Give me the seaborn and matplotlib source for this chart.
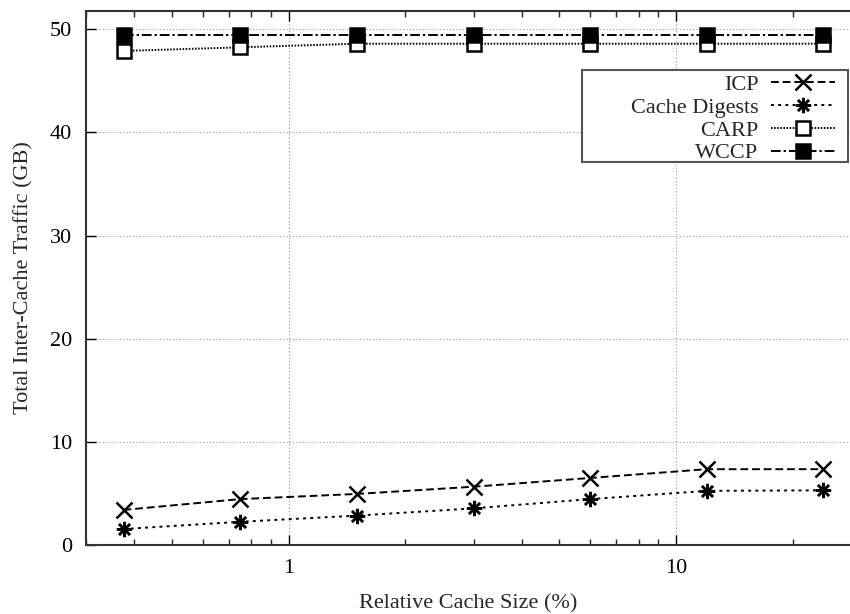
import matplotlib
matplotlib.use("Agg")
import matplotlib.pyplot as plt
from matplotlib.patches import Rectangle
import seaborn as sns

# relative cache size (%) - doubling steps
cache_size = [0.375, 0.75, 1.5, 3, 6, 12, 24]

icp = [3.4, 4.45, 4.95, 5.65, 6.5, 7.35, 7.35]
cache_digests = [1.55, 2.25, 2.85, 3.55, 4.45, 5.25, 5.3]
carp = [47.9, 48.25, 48.6, 48.6, 48.6, 48.6, 48.6]
wccp = [49.45, 49.45, 49.45, 49.45, 49.45, 49.45, 49.45]

series_names = ['ICP', 'Cache Digests', 'CARP', 'WCCP']
series_values = [icp, cache_digests, carp, wccp]


def main():
    sns.set_style('ticks')
    plt.rcParams['font.family'] = ['Liberation Serif', 'DejaVu Serif']

    fig = plt.figure(figsize=(8.5, 6.14), dpi=100)
    ax = fig.add_axes([86 / 850, 1 - 545 / 614, 1 - 86 / 850, (545 - 10.7) / 614])

    styles = {
        'ICP': dict(marker='x', linestyle=(0, (4, 2)), mfc='black', ms=11),
        'Cache Digests': dict(marker=(8, 2, 0), linestyle=(0, (1.5, 2.2)), mfc='black', ms=11),
        'CARP': dict(marker='s', linestyle=(0, (0.8, 0.8)), mfc='white', ms=10),
        'WCCP': dict(marker='s', linestyle=(0, (5, 1.5, 1.2, 1.5)), mfc='black', ms=10),
    }

    for name, vals in zip(series_names, series_values):
        st = styles[name]
        sns.lineplot(x=cache_size, y=vals, ax=ax, color='black', linewidth=1.4,
                     marker=st['marker'], markersize=st['ms'],
                     markerfacecolor=st['mfc'], markeredgecolor='black',
                     markeredgewidth=1.8, linestyle=st['linestyle'], label=name)

    ax.set_xscale('log')
    ax.set_xlim(0.3, 28.1)
    ax.set_ylim(0, 51.8)
    ax.set_yticks([0, 10, 20, 30, 40, 50])
    ax.set_xticks([1, 10])
    ax.set_xticklabels(['1', '10'])

    ax.grid(True, which='major', linestyle=(0, (1, 2)), color='#999999', linewidth=0.8)
    ax.tick_params(axis='both', which='major', direction='in', length=7, width=1,
                   labelsize=16, pad=10, top=True, right=False, colors='black')
    ax.tick_params(axis='x', which='minor', direction='in', length=4, width=1, top=True)

    for side in ['left', 'bottom', 'top']:
        ax.spines[side].set_linewidth(1.5)
        ax.spines[side].set_color('#333333')
    ax.spines['right'].set_visible(False)

    ax.set_xlabel('Relative Cache Size (%)', fontsize=16, labelpad=12)
    ax.set_ylabel('Total Inter-Cache Traffic (GB)', fontsize=16, labelpad=12)

    # gnuplot-style key: right-aligned labels, wide box drawn separately
    ax.legend(loc='upper right', bbox_to_anchor=(0.9865, 0.889), borderaxespad=0,
              markerfirst=False, frameon=False, fontsize=16, labelspacing=0.1,
              handlelength=2.9, handletextpad=0.55, borderpad=0.2)
    key_box = Rectangle((0.649, 0.717), 0.348, 0.172, transform=ax.transAxes,
                        facecolor='white', edgecolor='#555555', linewidth=1.5, zorder=4)
    ax.add_patch(key_box)
    ax.get_legend().set_zorder(5)

    plt.savefig('out.png', dpi=100)
    plt.close()


if __name__ == '__main__':
    main()
